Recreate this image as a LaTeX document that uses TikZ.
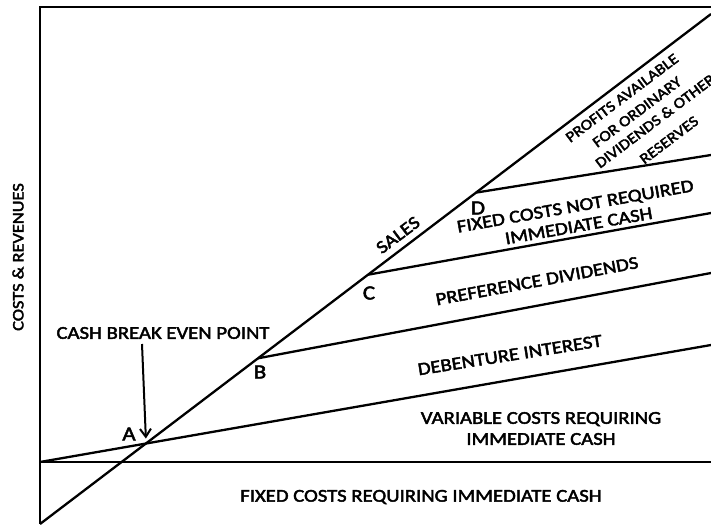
\documentclass[tikz,border=0pt]{standalone}
\usepackage{fontspec}
\setmainfont{Carlito}[FakeStretch=1.15,FakeBold=2.5]
\usetikzlibrary{arrows.meta,calc}

\tikzset{
  chartline/.style={line width=2.3pt},
  lbl/.style={font=\fontsize{18}{20}\selectfont, align=center, inner sep=0pt},
  smalllbl/.style={font=\fontsize{15}{20}\selectfont, inner sep=0pt, rotate=37},
  axislbl/.style={font=\fontsize{16}{19}\selectfont, inner sep=0pt, rotate=90},
  ptlbl/.style={font=\fontsize{20}{24}\selectfont, inner sep=0pt},
  pointer/.style={line width=2pt, -{Straight Barb[length=8pt,width=11pt,line width=2pt]}},
}

\begin{document}
\begin{tikzpicture}[x=1pt,y=-1pt]
  \useasboundingbox (0,0) rectangle (711,524);

  % frame and base lines
  \coordinate (Top)  at (40,7);
  \coordinate (TopR) at (711,7);
  \coordinate (Bot)  at (40,524);
  \coordinate (F0)   at (40,462);
  \coordinate (F1)   at (711,462);
  % sales line
  \coordinate (S0)   at (40,524);
  \coordinate (S1)   at (711,14);
  % variable cost line end
  \coordinate (V1)   at (711,345);
  % right ends of the cost layers
  \coordinate (Bend) at (711,273);
  \coordinate (Cend) at (711,213);
  \coordinate (Dend) at (711,155);

  \coordinate (A) at (intersection of S0--S1 and F0--V1);
  \coordinate (B) at ($(S0)!0.3249!(S1)$);
  \coordinate (C) at ($(S0)!0.4888!(S1)$);
  \coordinate (D) at ($(S0)!0.6498!(S1)$);

  \draw[chartline] (TopR) -- (Top) -- (Bot);
  \draw[chartline] (F0) -- (F1);
  \draw[chartline] (S0) -- (S1);
  \draw[chartline] (F0) -- (V1);
  \draw[chartline] (B) -- (Bend);
  \draw[chartline] (C) -- (Cend);
  \draw[chartline] (D) -- (Dend);

  % labels
  \node[axislbl] (axis) at (18,257) {COSTS \& REVENUES};
  \node[lbl] (cbep) at (163,333) {CASH BREAK EVEN POINT};
  \coordinate (arrS) at (142,344);
  \draw[pointer] (arrS) -- ([yshift=5pt]A);

  \node[ptlbl] (la) at (129,434) {A};
  \node[ptlbl] (lb) at (260,372) {B};
  \node[ptlbl] (lc) at (369,293) {C};
  \node[ptlbl] (ld) at (478,208) {D};

  \node[lbl, rotate=37] (sales) at (398,235) {SALES};

  % profit wedge, one line per node
  \node[smalllbl] (prof1) at (622,98)  {PROFITS AVAILABLE};
  \node[smalllbl] (prof2) at (637,112) {FOR ORDINARY};
  \node[smalllbl] (prof3) at (655,121) {DIVIDENDS \& OTHER};
  \node[smalllbl] (prof4) at (669,140) {RESERVES};

  \node[lbl, rotate=10] (fixnot) at (577,216) {FIXED COSTS NOT REQUIRED\\IMMEDIATE CASH};
  \node[lbl, rotate=10.5] (pref) at (537,281) {PREFERENCE DIVIDENDS};
  \node[lbl, rotate=9] (deb) at (510,355) {DEBENTURE INTEREST};
  \node[lbl, font=\fontsize{18}{21}\selectfont] (var) at (541,428.5) {VARIABLE COSTS REQUIRING\\IMMEDIATE CASH};
  \node[lbl] (fixreq) at (421,497) {FIXED COSTS REQUIRING IMMEDIATE CASH};
\end{tikzpicture}
\end{document}
